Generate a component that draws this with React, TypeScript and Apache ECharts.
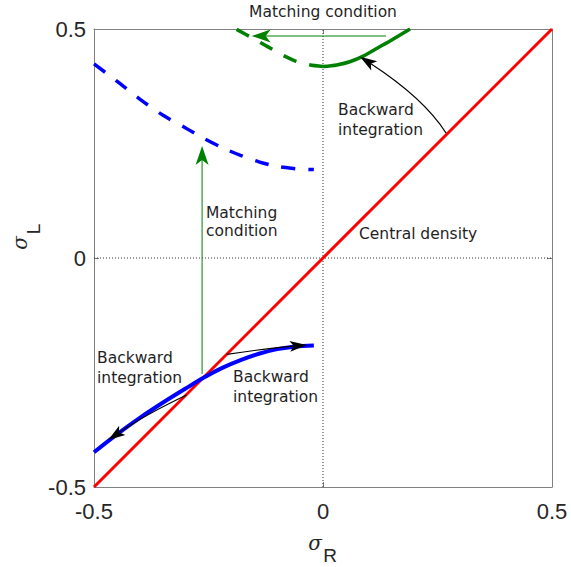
import React, { useEffect, useRef } from 'react';
import * as echarts from 'echarts';

// ---- data ----
const redX = [-0.5, 0.5];
const redY = [-0.5, 0.5];

const blueX = [-0.5, -0.45, -0.4, -0.35, -0.3, -0.26, -0.22, -0.18, -0.14, -0.1, -0.06, -0.02];
const blueSolidY = [-0.424, -0.385, -0.349, -0.316, -0.285, -0.261, -0.24, -0.223, -0.209, -0.199, -0.193, -0.191];
const blueDashY = [0.424, 0.386, 0.347, 0.312, 0.284, 0.261, 0.241, 0.224, 0.21, 0.2, 0.195, 0.193];

const greenSolidX = [0, 0.03, 0.06, 0.09, 0.12, 0.15, 0.19];
const greenSolidY = [0.418, 0.4215, 0.429, 0.442, 0.459, 0.476, 0.5];
const greenDashX = [0, -0.03, -0.06, -0.09, -0.12, -0.15, -0.19];
const greenDashY = [0.418, 0.422, 0.43, 0.444, 0.461, 0.478, 0.5];

const zeroVX = [0, 0];
const zeroVY = [-0.5, 0.5];
const zeroHX = [-0.5, 0.5];
const zeroHY = [0, 0];

// annotation arrows: [x1, y1, ctrlX, ctrlY, x2(tip), y2(tip)]
const blackArrows = [
  [0.2686, 0.273, 0.2203, 0.3487, 0.0808, 0.4396],
  [-0.2103, -0.2103, -0.12, -0.197, -0.0354, -0.1898],
  [-0.2977, -0.2991, -0.39, -0.343, -0.4688, -0.3974],
];
const greenArrows = [
  [-0.264, -0.253, -0.264, 0, -0.264, 0.2445],
  [0.1376, 0.4847, 0, 0.4847, -0.1557, 0.4847],
];

const xTicks = { min: -0.5, max: 0.5, interval: 0.5 };

const zip = (xs: number[], ys: number[]) => xs.map((x, i) => [x, ys[i]]);

const arrowRenderer =
  (color: string, lw: number, headLen: number, headHalf: number, notch: number) =>
  (_params: any, api: any) => {
    const p1 = api.coord([api.value(0), api.value(1)]);
    const c = api.coord([api.value(2), api.value(3)]);
    const p2 = api.coord([api.value(4), api.value(5)]);
    const dx = p2[0] - c[0];
    const dy = p2[1] - c[1];
    const len = Math.hypot(dx, dy) || 1;
    const ux = dx / len;
    const uy = dy / len;
    const nx = -uy;
    const ny = ux;
    const bx = p2[0] - ux * headLen;
    const by = p2[1] - uy * headLen;
    const mx = p2[0] - ux * (headLen - notch);
    const my = p2[1] - uy * (headLen - notch);
    return {
      type: 'group',
      children: [
        {
          type: 'bezierCurve',
          shape: { x1: p1[0], y1: p1[1], x2: mx, y2: my, cpx1: c[0], cpy1: c[1] },
          style: { stroke: color, lineWidth: lw, fill: 'none' },
        },
        {
          type: 'polygon',
          shape: {
            points: [
              [p2[0], p2[1]],
              [bx + nx * headHalf, by + ny * headHalf],
              [mx, my],
              [bx - nx * headHalf, by - ny * headHalf],
            ],
          },
          style: { fill: color, stroke: 'none' },
        },
      ],
    };
  };

const TEXT_FONT = '"DejaVu Sans", Verdana, sans-serif';
const TEXT_COLOR = '#1f1f1f';

const txt = (text: string, x: number, y: number, align = 'left') => ({
  type: 'text',
  x,
  y,
  silent: true,
  style: {
    text,
    fill: TEXT_COLOR,
    fontSize: 15.5,
    fontFamily: TEXT_FONT,
    align,
    textAlign: align,
    verticalAlign: 'middle',
    textVerticalAlign: 'middle',
  },
});

const App: React.FC = () => {
  const ref = useRef<HTMLDivElement>(null);

  useEffect(() => {
    document.body.style.margin = '0';
    if (!ref.current) return;
    const chart = echarts.init(ref.current, null, { renderer: 'svg' });

    const axisLineStyle = { color: '#808080', width: 1 };
    const baseX = {
      type: 'value',
      ...xTicks,
      axisLine: { show: true, onZero: false, lineStyle: axisLineStyle },
      axisTick: { show: true, inside: true, length: 5, lineStyle: axisLineStyle },
      splitLine: { show: false },
    };

    const lineSeries = (data: number[][], color: string, width: number, type: any, z: number) => ({
      type: 'line',
      data,
      symbol: 'none',
      showSymbol: false,
      smooth: 0.3,
      lineStyle: { color, width, type, cap: 'butt' },
      z,
      silent: true,
    });

    const option: any = {
      animation: false,
      grid: { left: 94, top: 29, width: 458, height: 458 },
      xAxis: [
        {
          ...baseX,
          position: 'bottom',
          axisLabel: { color: '#262626', fontSize: 22, fontFamily: '"Liberation Sans", Arial, sans-serif', margin: 13 },
        },
        { ...baseX, position: 'top', axisLabel: { show: false } },
      ],
      yAxis: [
        {
          ...baseX,
          position: 'left',
          axisLabel: { color: '#262626', fontSize: 22, fontFamily: '"Liberation Sans", Arial, sans-serif', margin: 8 },
        },
        { ...baseX, position: 'right', axisLabel: { show: false } },
      ],
      series: [
        { ...lineSeries(zip(zeroVX, zeroVY), '#333333', 1, [1, 2], 1), smooth: false },
        { ...lineSeries(zip(zeroHX, zeroHY), '#333333', 1, [1, 2], 1), smooth: false },
        { ...lineSeries(zip(redX, redY), '#ff0000', 3, 'solid', 2), smooth: false },
        lineSeries(zip(blueX, blueDashY), '#0000ff', 3.5, [14, 13], 3),
        lineSeries(zip(blueX, blueSolidY), '#0000ff', 4, 'solid', 4),
        lineSeries(zip(greenDashX, greenDashY), '#008000', 3.5, [14, 13], 3),
        lineSeries(zip(greenSolidX, greenSolidY), '#008000', 3.5, 'solid', 4),
        {
          type: 'custom',
          renderItem: arrowRenderer('#008000', 1, 19, 6.5, 5),
          data: greenArrows,
          encode: { x: [0, 2, 4], y: [1, 3, 5] },
          z: 5,
          silent: true,
        },
        {
          type: 'custom',
          renderItem: arrowRenderer('#000000', 1.2, 17, 5.5, 4),
          data: blackArrows,
          encode: { x: [0, 2, 4], y: [1, 3, 5] },
          z: 6,
          silent: true,
        },
      ],
      graphic: [
        txt('Matching condition', 323, 12, 'center'),
        txt('Backward', 338, 110),
        txt('integration', 338, 130),
        txt('Central density', 359, 234),
        txt('Matching', 206, 213),
        txt('condition', 206, 231),
        txt('Backward', 97, 358),
        txt('integration', 97, 378),
        txt('Backward', 233, 377),
        txt('integration', 233, 397),
        // axis names
        {
          type: 'text',
          x: 315,
          y: 543,
          silent: true,
          style: { text: 'σ', fill: '#262626', fontSize: 20, fontFamily: '"DejaVu Serif", serif', fontStyle: 'italic', align: 'center', textAlign: 'center', verticalAlign: 'middle', textVerticalAlign: 'middle' },
        },
        {
          type: 'text',
          x: 330,
          y: 555,
          silent: true,
          style: { text: 'R', fill: '#262626', fontSize: 19, fontFamily: '"Liberation Sans", Arial, sans-serif', align: 'center', textAlign: 'center', verticalAlign: 'middle', textVerticalAlign: 'middle' },
        },
        {
          type: 'text',
          x: 20,
          y: 243,
          rotation: Math.PI / 2,
          silent: true,
          style: { text: 'σ', fill: '#262626', fontSize: 20, fontFamily: '"DejaVu Serif", serif', fontStyle: 'italic', align: 'center', textAlign: 'center', verticalAlign: 'middle', textVerticalAlign: 'middle' },
        },
        {
          type: 'text',
          x: 33,
          y: 229,
          rotation: Math.PI / 2,
          silent: true,
          style: { text: 'L', fill: '#262626', fontSize: 19, fontFamily: '"Liberation Sans", Arial, sans-serif', align: 'center', textAlign: 'center', verticalAlign: 'middle', textVerticalAlign: 'middle' },
        },
      ],
    };

    chart.setOption(option);
    return () => chart.dispose();
  }, []);

  return <div ref={ref} style={{ width: 571, height: 567 }} />;
};

export default App;
